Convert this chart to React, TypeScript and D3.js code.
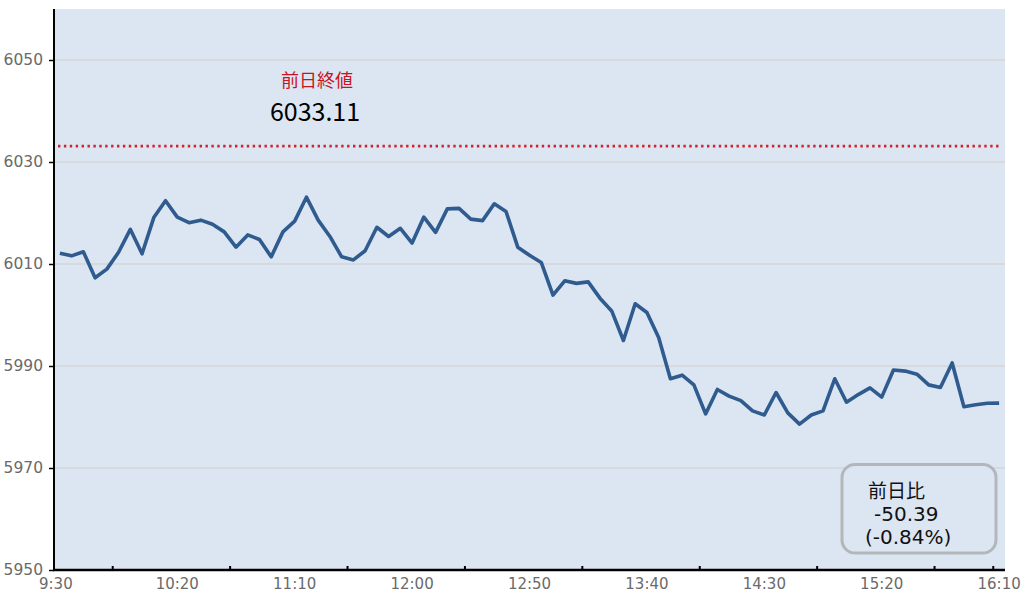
import React, { useEffect, useRef } from 'react';
import * as d3 from 'd3';

// 5-minute bars, 9:30 -> 16:10
const times: string[] = d3.range(0, 81).map((i) => {
  const m = 9 * 60 + 30 + i * 5;
  return `${Math.floor(m / 60)}:${String(m % 60).padStart(2, '0')}`;
});

const prices: number[] = [
  6012.1, 6011.6, 6012.4, 6007.3, 6009.0, 6012.3, 6016.8, 6012.0, 6019.1, 6022.4,
  6019.2, 6018.1, 6018.6, 6017.8, 6016.3, 6013.3, 6015.7, 6014.8, 6011.4, 6016.3,
  6018.4, 6023.1, 6018.6, 6015.4, 6011.4, 6010.8, 6012.6, 6017.2, 6015.4, 6017.0,
  6014.1, 6019.2, 6016.2, 6020.8, 6020.9, 6018.8, 6018.5, 6021.8, 6020.3, 6013.3,
  6011.7, 6010.3, 6003.9, 6006.7, 6006.2, 6006.5, 6003.3, 6000.8, 5995.0, 6002.2,
  6000.5, 5995.6, 5987.5, 5988.2, 5986.3, 5980.6, 5985.4, 5984.1, 5983.2, 5981.2,
  5980.4, 5984.8, 5980.8, 5978.6, 5980.4, 5981.2, 5987.5, 5982.9, 5984.4, 5985.7,
  5983.9, 5989.2, 5989.0, 5988.4, 5986.3, 5985.8, 5990.6, 5982.0, 5982.4, 5982.7,
  5982.72,
];

const xTickLabels = ['9:30', '10:20', '11:10', '12:00', '12:50', '13:40', '14:30', '15:20', '16:10'];
const xTickMarks = ['9:55', '10:45', '11:35', '12:25', '13:15', '14:05', '14:55', '15:45', '16:10'];
const yTicks = [5950, 5970, 5990, 6010, 6030, 6050];
const gridTicks = [5970, 5990, 6010, 6030, 6050];

const prevClose = 6033.11;
const change = '-50.39';
const changePct = '(-0.84%)';

const FONT = '"Noto Sans CJK JP", "Noto Sans", sans-serif';
const NUMFONT = '"DejaVu Sans", sans-serif';

const App: React.FC = () => {
  const svgRef = useRef<SVGSVGElement | null>(null);

  useEffect(() => {
    const W = 1030;
    const H = 595;
    const left = 54;
    const right = 1005;
    const top = 9;
    const bottom = 570;

    const svg = d3.select(svgRef.current);
    svg.selectAll('*').remove();

    const x = d3.scaleBand<string>().domain(times).range([left, right]).padding(0);
    const y = d3.scaleLinear().domain([5950, 6060]).range([bottom, top]);
    const cx = (t: string) => (x(t) ?? 0) + x.bandwidth() / 2;

    svg.append('rect').attr('width', W).attr('height', H).attr('fill', '#ffffff');
    svg
      .append('rect')
      .attr('x', left)
      .attr('y', top)
      .attr('width', right - left)
      .attr('height', bottom - top)
      .attr('fill', '#dce6f2');

    // gridlines
    svg
      .selectAll('.grid')
      .data(gridTicks)
      .enter()
      .append('line')
      .attr('x1', left)
      .attr('x2', right)
      .attr('y1', (d) => y(d))
      .attr('y2', (d) => y(d))
      .attr('stroke', '#d6d6d6')
      .attr('stroke-width', 1.5);

    // previous close
    svg
      .append('line')
      .attr('x1', left + 4)
      .attr('x2', right - 6)
      .attr('y1', y(prevClose))
      .attr('y2', y(prevClose))
      .attr('stroke', '#d2232a')
      .attr('stroke-width', 2.6)
      .attr('stroke-dasharray', '2.4 3.5');

    const line = d3
      .line<number>()
      .x((_, i) => cx(times[i]))
      .y((d) => y(d));

    svg
      .append('path')
      .datum(prices)
      .attr('d', line)
      .attr('fill', 'none')
      .attr('stroke', '#2f5b8f')
      .attr('stroke-width', 3.6)
      .attr('stroke-linejoin', 'round');

    // axes
    const yAxis = svg
      .append('g')
      .attr('transform', `translate(${left},0)`)
      .call(d3.axisLeft(y).tickValues(yTicks).tickSize(5).tickPadding(6).tickFormat(d3.format('d')));
    yAxis.select('.domain').remove();
    yAxis.selectAll('line').attr('stroke', '#000').attr('stroke-width', 1.5);
    yAxis
      .selectAll('text')
      .attr('fill', '#6a6a6a')
      .style('font-family', NUMFONT)
      .style('font-size', '15.5px');

    const xLabels = svg
      .append('g')
      .attr('transform', `translate(0,${bottom})`)
      .call(d3.axisBottom(x).tickValues(xTickLabels).tickSize(0).tickPadding(8));
    xLabels.select('.domain').remove();
    xLabels
      .selectAll('text')
      .attr('fill', '#6a6a6a')
      .style('font-family', NUMFONT)
      .style('font-size', '15px');
    xLabels
      .selectAll<SVGGElement, string>('.tick')
      .attr('transform', (d, i) => `translate(${cx(d) - (i === 0 ? 4 : 0)},0)`);

    svg
      .selectAll('.xmark')
      .data(xTickMarks)
      .enter()
      .append('line')
      .attr('x1', (d) => x(d) ?? 0)
      .attr('x2', (d) => x(d) ?? 0)
      .attr('y1', bottom)
      .attr('y2', bottom - 4)
      .attr('stroke', '#000')
      .attr('stroke-width', 2);

    svg
      .append('line')
      .attr('x1', left)
      .attr('x2', left)
      .attr('y1', top)
      .attr('y2', bottom + 1)
      .attr('stroke', '#000')
      .attr('stroke-width', 2);
    svg
      .append('line')
      .attr('x1', left - 1)
      .attr('x2', right)
      .attr('y1', bottom)
      .attr('y2', bottom)
      .attr('stroke', '#000')
      .attr('stroke-width', 2.5);

    // previous close label
    svg
      .append('text')
      .attr('x', 317)
      .attr('y', 87)
      .attr('text-anchor', 'middle')
      .attr('fill', '#c8141e')
      .style('font-family', FONT)
      .style('font-size', '18px')
      .text('前日終値');
    svg
      .append('text')
      .attr('x', 315)
      .attr('y', 121)
      .attr('text-anchor', 'middle')
      .attr('fill', '#000')
      .style('font-family', FONT)
      .style('font-size', '25px')
      .text(prevClose.toFixed(2));

    // change box
    const box = svg.append('g');
    box
      .append('rect')
      .attr('x', 842)
      .attr('y', 464.5)
      .attr('width', 154)
      .attr('height', 88.5)
      .attr('rx', 13)
      .attr('fill', '#dce6f2')
      .attr('stroke', '#b3b7bb')
      .attr('stroke-width', 3);
    const lines = [
      { t: '前日比', x: 868, y: 498, f: FONT, s: 19 },
      { t: change, x: 874, y: 520.5, f: NUMFONT, s: 20 },
      { t: changePct, x: 865, y: 544, f: NUMFONT, s: 20 },
    ];
    box
      .selectAll('text')
      .data(lines)
      .enter()
      .append('text')
      .attr('x', (d) => d.x)
      .attr('y', (d) => d.y)
      .attr('fill', '#111')
      .style('font-family', (d) => d.f)
      .style('font-size', (d) => `${d.s}px`)
      .text((d) => d.t);
  }, []);

  return (
    <svg
      ref={svgRef}
      width={1030}
      height={595}
      style={{ position: 'absolute', left: 0, top: 0, display: 'block' }}
    />
  );
};

export default App;
